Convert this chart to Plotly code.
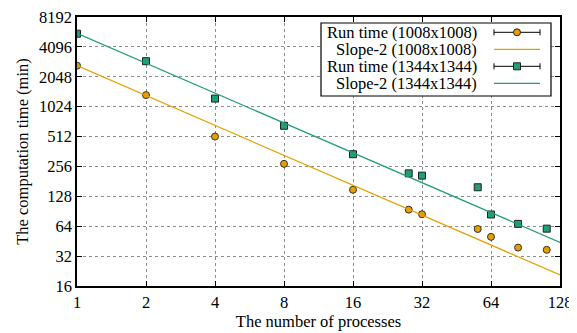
import plotly.graph_objects as go

procs = [1, 2, 4, 8, 16, 28, 32, 56, 64, 84, 112]
time_1008 = [2650, 1340, 512, 272, 149, 94, 84.5, 60, 50, 39, 37]
time_1344 = [5560, 2940, 1235, 657, 340, 218, 207, 158, 84, 67.6, 60.5]
slope_x = [1, 128]
slope_1008 = [2650, 20.7]
slope_1344 = [5600, 44]

xticks = [1, 2, 4, 8, 16, 32, 64, 128]
yticks = [16, 32, 64, 128, 256, 512, 1024, 2048, 4096, 8192]
legend_labels = ["Run time (1008x1008)", "Slope-2 (1008x1008)",
                 "Run time (1344x1344)", "Slope-2 (1344x1344)"]

orange = "#E69F00"
green = "#1F9E78"
font = "Liberation Serif, Times New Roman, DejaVu Serif, serif"
fs = 16.5

fig = go.Figure()
fig.add_trace(go.Scatter(x=procs, y=time_1008, mode="markers", name=legend_labels[0],
                         marker=dict(symbol="circle", size=7, color=orange,
                                     line=dict(color="#333333", width=1))))
fig.add_trace(go.Scatter(x=slope_x, y=slope_1008, mode="lines", name=legend_labels[1],
                         line=dict(color=orange, width=1.2)))
fig.add_trace(go.Scatter(x=procs, y=time_1344, mode="markers", name=legend_labels[2],
                         marker=dict(symbol="square", size=7, color=green,
                                     line=dict(color="#222222", width=1))))
fig.add_trace(go.Scatter(x=slope_x, y=slope_1344, mode="lines", name=legend_labels[3],
                         line=dict(color=green, width=1.2)))

axis_common = dict(type="log", showline=True, linecolor="black", linewidth=1.5, mirror="allticks",
                   ticks="inside", ticklen=5, tickcolor="black", automargin=False,
                   ticklabeloverflow="allow",
                   showgrid=True, gridcolor="#8c8c8c", griddash="dot", gridwidth=1,
                   zeroline=False, tickfont=dict(family=font, size=fs, color="black"))

fig.update_xaxes(range=[0, 2.10721], tickvals=xticks, ticktext=[str(v) for v in xticks],
                 title=dict(text="The number of processes", font=dict(family=font, size=fs, color="black"),
                            standoff=2),
                 **axis_common)
fig.update_yaxes(range=[1.2041, 3.91340], tickvals=yticks, ticktext=[str(v) for v in yticks],
                 title=dict(text="The computation time (min)", font=dict(family=font, size=fs, color="black"),
                            standoff=6),
                 **axis_common)

# --- gnuplot-style key (text right-aligned, sample to the right) ---
PW, PH = 483.0, 269.0  # plot area size in px
def px(x):  # offset from plot-left in px -> paper
    return x / PW
def py(y):  # offset from plot-top in px -> paper
    return 1 - y / PH

shapes = []
annotations = []
shapes.append(dict(type="rect", xref="paper", yref="paper",
                   x0=px(244), x1=px(474), y0=py(79), y1=py(6),
                   line=dict(color="black", width=1.2), fillcolor="white", layer="above"))
row_y = [15.3, 32.3, 49.3, 66.3]
text_right = px(402)
s0, s1, sc = 417, 463, 440
for i, lab in enumerate(legend_labels):
    annotations.append(dict(xref="paper", yref="paper", x=text_right, y=py(row_y[i]),
                            text=lab, showarrow=False, xanchor="right", yanchor="middle",
                            font=dict(family=font, size=16.5, color="black")))
for i, col in [(1, orange), (3, green)]:
    shapes.append(dict(type="line", xref="paper", yref="paper", x0=px(s0), x1=px(s1),
                       y0=py(row_y[i]), y1=py(row_y[i]), line=dict(color=col, width=1.2), layer="above"))
for i, col, kind in [(0, orange, "circle"), (2, green, "rect")]:
    yy = py(row_y[i])
    shapes.append(dict(type="line", xref="paper", yref="paper", x0=px(s0), x1=px(s1),
                       y0=yy, y1=yy, line=dict(color="black", width=1), layer="above"))
    for xe in (s0, s1):
        shapes.append(dict(type="line", xref="paper", yref="paper", x0=px(xe), x1=px(xe),
                           y0=py(row_y[i] - 3), y1=py(row_y[i] + 3),
                           line=dict(color="black", width=1), layer="above"))
    shapes.append(dict(type=kind, xref="paper", yref="paper", xsizemode="pixel", ysizemode="pixel",
                       xanchor=px(sc), yanchor=yy, x0=-3.5, x1=3.5, y0=-3.5, y1=3.5,
                       fillcolor=col, line=dict(color="#222222", width=1), layer="above"))

fig.update_layout(width=577, height=333, margin=dict(l=69, r=25, t=9, b=55, autoexpand=False),
                  paper_bgcolor="white", plot_bgcolor="white",
                  font=dict(family=font, size=fs, color="black"),
                  showlegend=False, shapes=shapes, annotations=annotations)

fig.write_html("out.html")
